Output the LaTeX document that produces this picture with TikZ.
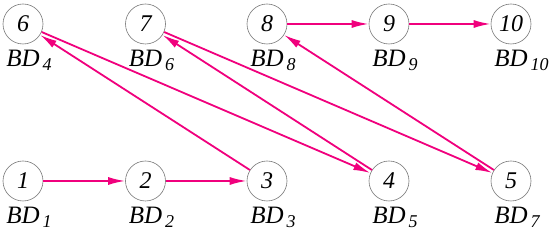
\documentclass[tikz,border=0pt]{standalone}
\usepackage{fontspec}
\newfontfamily\labfont{Liberation Serif}
\usetikzlibrary{arrows.meta}
\definecolor{edgepink}{RGB}{240,0,125}
\definecolor{ringgray}{RGB}{120,120,120}
\newcommand{\bdlab}[1]{BD\rlap{\hspace{3pt}\raisebox{-4pt}{\fontsize{18}{20}\selectfont #1}}}
\begin{document}
\begin{tikzpicture}[x=1pt,y=1pt,
  vert/.style={circle,draw=ringgray,line width=0.6pt,minimum size=40pt,inner sep=0pt,
    font=\labfont\itshape\fontsize{24}{28}\selectfont},
  lab/.style={anchor=base,inner sep=0pt,font=\labfont\itshape\fontsize{25}{28}\selectfont},
  conn/.style={draw=edgepink,line width=1.8pt,-{Latex[length=17pt,width=8pt]}}]
\useasboundingbox (0,0) rectangle (550,232);
% nodes
\node[vert] (n1) at (23,51) {1};
\node[vert] (n2) at (145.5,51) {2};
\node[vert] (n3) at (267,51) {3};
\node[vert] (n4) at (389,51) {4};
\node[vert] (n5) at (511,51) {5};
\node[vert] (n6) at (23,208) {6};
\node[vert] (n7) at (145.5,208) {7};
\node[vert] (n8) at (267,208) {8};
\node[vert] (n9) at (389,208) {9};
\node[vert] (n10) at (511,208) {10};
% labels
\node[lab] (l1) at (23,8) {\bdlab{1}};
\node[lab] (l2) at (145.5,8) {\bdlab{2}};
\node[lab] (l3) at (267,8) {\bdlab{3}};
\node[lab] (l4) at (389,8) {\bdlab{5}};
\node[lab] (l5) at (511,8) {\bdlab{7}};
\node[lab] (l6) at (23,165) {\bdlab{4}};
\node[lab] (l7) at (145.5,165) {\bdlab{6}};
\node[lab] (l8) at (267,165) {\bdlab{8}};
\node[lab] (l9) at (389,165) {\bdlab{9}};
\node[lab] (l10) at (511,165) {\bdlab{10}};
% connectors
\draw[conn] (n1) -- (n2);
\draw[conn] (n2) -- (n3);
\draw[conn] (n3) -- (n6);
\draw[conn] (n6) -- (n4);
\draw[conn] (n4) -- (n7);
\draw[conn] (n7) -- (n5);
\draw[conn] (n5) -- (n8);
\draw[conn] (n8) -- (n9);
\draw[conn] (n9) -- (n10);
\end{tikzpicture}
\end{document}
